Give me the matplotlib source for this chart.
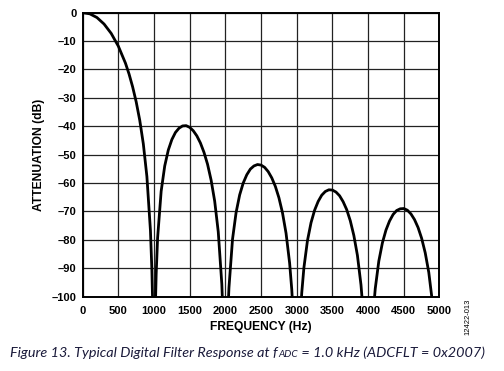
import matplotlib
matplotlib.use("Agg")
import matplotlib.pyplot as plt

# digitised sinc-like response, one list per lobe (Hz, dB)
lobe1_f = [0, 100, 200, 300, 400, 500, 600, 650, 700, 750, 800, 850, 900, 950, 970, 980]
lobe1_db = [0, -0.4, -1.7, -4.0, -7.3, -11.8, -17.8, -21.6, -26.1, -31.4, -37.9, -46.2, -57.7, -76.8, -90.6, -101.4]

lobe2_f = [1020, 1030, 1050, 1100, 1150, 1200, 1250, 1300, 1350, 1400, 1450, 1500, 1550, 1600,
           1650, 1700, 1750, 1800, 1850, 1900, 1950, 1970]
lobe2_db = [-102.5, -92.2, -79.4, -62.9, -54.0, -48.4, -44.7, -42.2, -40.7, -39.9, -39.8, -40.4, -41.6, -43.4,
            -45.9, -49.2, -53.4, -59.0, -66.4, -77.2, -95.6, -109.0]

lobe3_f = [2040, 2050, 2100, 2150, 2200, 2250, 2300, 2350, 2400, 2450, 2500, 2550, 2600, 2650,
           2700, 2750, 2800, 2850, 2900, 2930, 2950]
lobe3_db = [-102.5, -96.9, -79.8, -70.4, -64.2, -60.0, -57.1, -55.1, -54.0, -53.5, -53.7, -54.5, -56.0, -58.2,
            -61.2, -65.2, -70.5, -77.7, -88.2, -97.5, -106.4]

lobe4_f = [3050, 3070, 3100, 3150, 3200, 3250, 3300, 3350, 3400, 3450, 3500, 3550, 3600, 3650,
           3700, 3750, 3800, 3850, 3900, 3930]
lobe4_db = [-107.2, -98.7, -89.9, -80.3, -74.0, -69.6, -66.5, -64.3, -63.0, -62.4, -62.5, -63.2, -64.5, -66.6,
            -69.4, -73.3, -78.5, -85.5, -95.9, -105.2]

lobe5_f = [4070, 4100, 4150, 4200, 4250, 4300, 4350, 4400, 4450, 4500, 4550, 4600, 4650,
           4700, 4750, 4800, 4850, 4900]
lobe5_db = [-106.1, -97.2, -87.5, -81.1, -76.6, -73.4, -71.1, -69.7, -69.1, -69.0, -69.6, -70.9, -72.9,
            -75.7, -79.5, -84.6, -91.5, -101.8]

x_ticks = [0, 500, 1000, 1500, 2000, 2500, 3000, 3500, 4000, 4500, 5000]
y_ticks = [0, -10, -20, -30, -40, -50, -60, -70, -80, -90, -100]

plt.rcParams['font.family'] = ['Liberation Sans', 'DejaVu Sans']

fig = plt.figure(figsize=(5.04, 3.71), dpi=100)
ax = fig.add_axes([0.164, 0.2008, 0.708, 0.765])

lobes = [(lobe1_f, lobe1_db), (lobe2_f, lobe2_db), (lobe3_f, lobe3_db),
         (lobe4_f, lobe4_db), (lobe5_f, lobe5_db)]
for f, db in lobes:
    ax.plot(f, db, color='black', lw=2.0, solid_capstyle='butt', zorder=3)

ax.set_xlim(0, 5000)
ax.set_ylim(-100, 0)
ax.set_xticks(x_ticks)
ax.set_yticks(y_ticks)
ax.set_yticklabels(['0' if v == 0 else '\u2013%d' % -v for v in y_ticks])
ax.grid(True, color='#222222', lw=0.9)
ax.tick_params(length=0, labelsize=8)
ax.tick_params(axis='x', pad=6.5)
ax.tick_params(axis='y', pad=4.5)
for lab in ax.get_xticklabels() + ax.get_yticklabels():
    lab.set_fontweight('bold')
for sp in ax.spines.values():
    sp.set_linewidth(1.4)

ax.set_xlabel('FREQUENCY (Hz)', fontsize=8.7, fontweight='bold', labelpad=4)
ax.set_ylabel('ATTENUATION (dB)', fontsize=8.7, fontweight='bold', labelpad=5)

fig.text(0.928, 0.145, '12422-013', rotation=90, fontsize=5.5, ha='center', va='center')

# caption with subscript
cap_col = '#1a1a3a'
cap_fam = ['Lato', 'DejaVu Sans']
t1 = fig.text(0.02, 0.038, 'Figure 13. Typical Digital Filter Response at f', va='baseline',
              fontsize=10.4, style='italic', color=cap_col, family=cap_fam)
t2 = ax.annotate('ADC', xy=(1, 0), xycoords=t1, xytext=(0.3, -0.3), textcoords='offset points',
                 va='bottom', fontsize=7.2, style='italic', color=cap_col, family=cap_fam)
ax.annotate(' = 1.0 kHz (ADCFLT = 0x2007)', xy=(1, 0), xycoords=t2, xytext=(0, 0.3),
            textcoords='offset points', va='bottom',
            fontsize=10.4, style='italic', color=cap_col, family=cap_fam)

fig.savefig('out.png', dpi=100)
